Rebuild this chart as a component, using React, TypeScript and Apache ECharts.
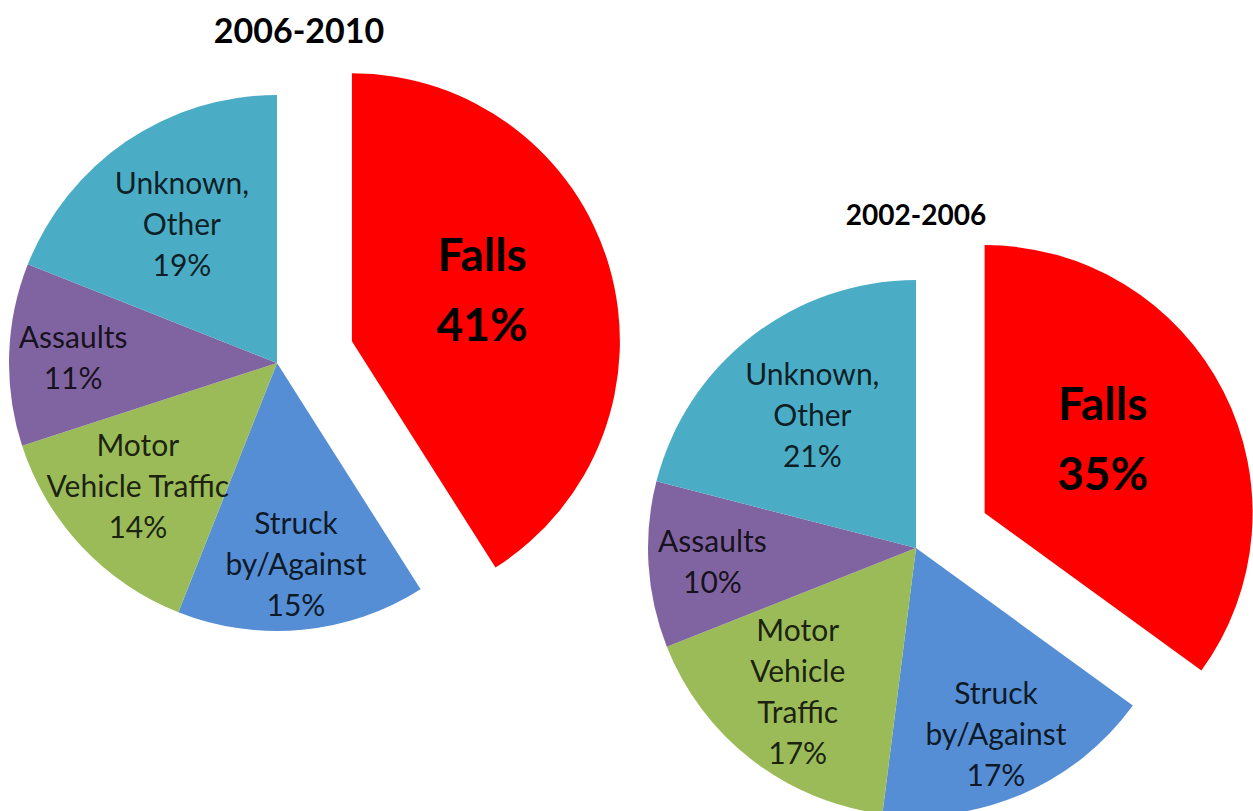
import React, { useEffect, useRef } from "react";
import * as echarts from "echarts";

// ---- data ----
const CATEGORIES = ["Falls", "Struck by/Against", "Motor Vehicle Traffic", "Assaults", "Unknown, Other"];
const TITLES = ["2006-2010", "2002-2006"];
const VALUES_2006_2010 = [41, 15, 14, 11, 19];
const VALUES_2002_2006 = [35, 17, 17, 10, 21];
const LABEL_TEXT_2006_2010 = ["Falls", "Struck\nby/Against", "Motor\nVehicle Traffic", "Assaults", "Unknown,\nOther"];
const LABEL_TEXT_2002_2006 = ["Falls", "Struck\nby/Against", "Motor\nVehicle\nTraffic", "Assaults", "Unknown,\nOther"];
const EXPLODED = ["Falls"];

// ---- styles / layout ----
const COLORS = ["#FF0000", "#558ED5", "#9BBB59", "#8064A2", "#4BACC6"];
const LABEL_RADIUS = [0.51, 0.74, 0.68, 0.75, 0.62]; // fraction of radius for label centres
const LABEL_TANGENT = [-14, 0, 6, 0, 0]; // px, negative = counter-clockwise
const FONT = "Lato, 'Open Sans', sans-serif";
const R = 268;

const PIES = [
  { title: TITLES[0], values: VALUES_2006_2010, labels: LABEL_TEXT_2006_2010, center: [277, 363], offset: 78, titlePos: [299, 29], titleSize: 34 },
  { title: TITLES[1], values: VALUES_2002_2006, labels: LABEL_TEXT_2002_2006, center: [916, 548], offset: 77, titlePos: [916, 214], titleSize: 28 },
];

function midAngles(values: number[]): number[] {
  const total = values.reduce((a, b) => a + b, 0);
  let acc = 0;
  return values.map((v) => {
    const m = ((acc + v / 2) / total) * Math.PI * 2;
    acc += v;
    return m;
  });
}

export default function App() {
  const ref = useRef<HTMLDivElement>(null);
  useEffect(() => {
    if (!ref.current) return;
    const chart = echarts.init(ref.current, null, { renderer: "svg" });
    const series = PIES.map((pie) => {
      const mids = midAngles(pie.values);
      return {
        type: "pie",
        center: pie.center,
        radius: R,
        startAngle: 90,
        clockwise: true,
        selectedMode: "multiple",
        selectedOffset: pie.offset,
        avoidLabelOverlap: false,
        emphasis: { scale: false, disabled: true },
        itemStyle: { borderWidth: 0 },
        labelLine: { show: false },
        label: {
          show: true,
          position: "inside",
          fontFamily: FONT,
          fontSize: 30,
          lineHeight: 41,
          color: "rgba(0,0,0,0.84)",
          formatter: (p: any) => `${pie.labels[p.dataIndex]}\n${p.value}%`,
        },
        labelLayout: (p: any) => {
          const a = mids[p.dataIndex];
          const shift = (LABEL_RADIUS[p.dataIndex] - 0.5) * R;
          const t = LABEL_TANGENT[p.dataIndex];
          return {
            dx: shift * Math.sin(a) + t * Math.cos(a),
            dy: -shift * Math.cos(a) + t * Math.sin(a),
          };
        },
        data: CATEGORIES.map((name, i) => {
          const isExploded = EXPLODED.includes(name);
          return {
            name,
            value: pie.values[i],
            selected: isExploded,
            itemStyle: { color: COLORS[i] },
            label: isExploded
              ? { fontSize: 46, fontWeight: "bold", lineHeight: 70, color: "#000" }
              : undefined,
            select: { itemStyle: { color: COLORS[i] } },
          };
        }),
      };
    });
    chart.setOption({
      animation: false,
      backgroundColor: "#ffffff",
      series,
      graphic: PIES.map((pie) => ({
        type: "text",
        x: pie.titlePos[0],
        y: pie.titlePos[1],
        style: {
          text: pie.title,
          fontFamily: FONT,
          fontSize: pie.titleSize,
          fontWeight: "bold",
          fill: "#000",
          align: "center",
          verticalAlign: "middle",
        },
      })),
    });
    return () => chart.dispose();
  }, []);
  return (
    <div
      ref={ref}
      style={{ position: "absolute", left: 0, top: 0, width: 1253, height: 811 }}
    />
  );
}
